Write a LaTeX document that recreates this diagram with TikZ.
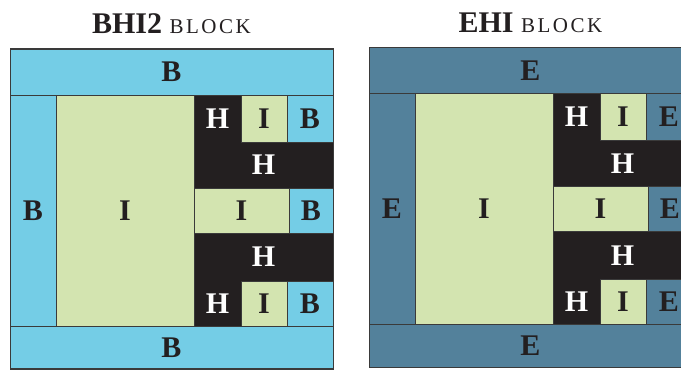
\documentclass[tikz,border=0pt]{standalone}
\usepackage{fontspec}
\setmainfont{Liberation Serif}
\usepackage{xcolor}
\usepackage{tikz}
\usetikzlibrary{positioning}
\definecolor{celeste}{HTML}{74CDE6}
\definecolor{pistacho}{HTML}{D3E4B0}
\definecolor{negro}{HTML}{231F20}
\definecolor{petroleo}{HTML}{53819B}
\definecolor{borde}{HTML}{3A3A3A}
\newcommand{\versalita}[1]{{\fontsize{21}{24}\selectfont\addfontfeature{LetterSpace=12}#1}}
\tikzset{
  celda/.style={draw=borde,line width=0.8pt,anchor=north west,inner sep=0pt,outer sep=0pt,font=\fontsize{30}{32}\selectfont\bfseries,text=negro},
  celdac/.style={celda,fill=#1},
  celdai/.style={celda,fill=pistacho},
  celdah/.style={celda,fill=negro,draw=negro,text=white},
  titulo/.style={font=\fontsize{30}{34}\selectfont,anchor=base,text=negro,inner sep=0pt},
  marco/.style={draw=borde,line width=1pt},
}

\begin{document}
\begin{tikzpicture}[x=1pt,y=-1pt]
  \path[use as bounding box] (0,0) rectangle (681,371);
  \clip (0,0) rectangle (681,371);
  \foreach \ox/\oy/\l/\c/\t in {0/0/B/celeste/BHI2, 359/1.5/E/petroleo/EHI}{
    \begin{scope}[xshift=\ox pt,yshift=\oy pt]
      \node[titulo] (t\l) at (171.5,34) {\textbf{\t} \versalita{BLOCK}};
      \node[celdah,minimum width=47pt,minimum height=47pt] (h1\l) at (194,95) {H};
      \node[celdah,minimum width=139pt,minimum height=46pt] (h2\l) at (194,142) {H};
      \node[celdah,minimum width=139pt,minimum height=48pt] (h4\l) at (194,233) {H};
      \node[celdah,minimum width=47pt,minimum height=45pt] (h5\l) at (194,281) {H};
      \node[celdac=\c,minimum width=323pt,minimum height=46pt] (arriba\l) at (10,49) {\l};
      \node[celdac=\c,minimum width=46pt,minimum height=231pt] (izq\l) at (10,95) {\l};
      \node[celdai,minimum width=138pt,minimum height=231pt] (i\l) at (56,95) {I};
      \node[celdai,minimum width=46pt,minimum height=47pt] (i1\l) at (241,95) {I};
      \node[celdac=\c,minimum width=46pt,minimum height=47pt] (e1\l) at (287,95) {\l};
      \node[celdai,minimum width=95pt,minimum height=45pt] (i3\l) at (194,188) {I};
      \node[celdac=\c,minimum width=44pt,minimum height=45pt] (e3\l) at (289,188) {\l};
      \node[celdai,minimum width=46pt,minimum height=45pt] (i5\l) at (241,281) {I};
      \node[celdac=\c,minimum width=46pt,minimum height=45pt] (e5\l) at (287,281) {\l};
      \node[celdac=\c,minimum width=323pt,minimum height=43pt] (abajo\l) at (10,326) {\l};
      \draw[marco] (arriba\l.north west) rectangle (abajo\l.south east);
    \end{scope}
  }
\end{tikzpicture}
\end{document}
